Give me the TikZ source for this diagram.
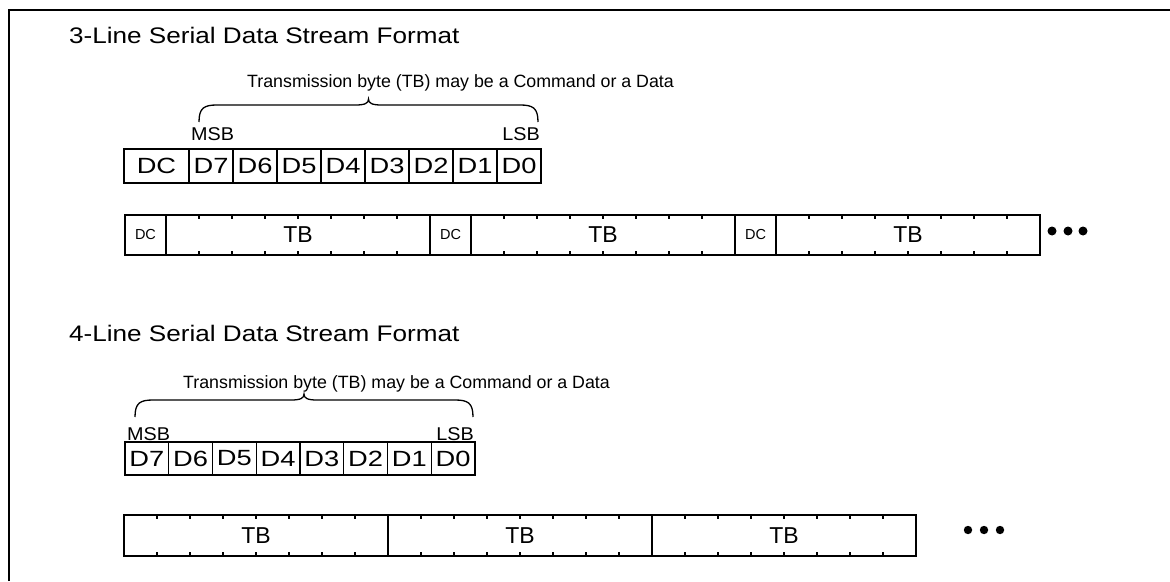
\documentclass[tikz,border=0pt]{standalone}
\usepackage{graphicx}
\usepackage{fontspec}
\setmainfont{Liberation Sans}

\newcommand{\wide}[2][1.24]{\scalebox{#1}[1]{#2}}
\newcommand{\tbrace}[3]{%
  \pgfmathsetmacro\braceM{(#1+#2)/2}
  \draw[line width=1.3pt] (#1,#3) .. controls (#1,{#3-14}) and ({#1+5},{#3-17}) .. ({#1+18},{#3-17})
    -- ({\braceM-13},{#3-17}) .. controls ({\braceM-3},{#3-17}) and (\braceM,{#3-19}) .. (\braceM,{#3-23})
    .. controls (\braceM,{#3-19}) and ({\braceM+3},{#3-17}) .. ({\braceM+13},{#3-17})
    -- ({#2-18},{#3-17}) .. controls ({#2-5},{#3-17}) and (#2,{#3-14}) .. (#2,#3);}

\tikzset{
  cell/.style={draw, line width=1.3pt, inner sep=0pt, minimum height=34pt,
    font=\fontsize{22}{22}\selectfont},
  ttl/.style={anchor=base west, inner sep=0pt, font=\fontsize{22.5}{27}\selectfont},
  note/.style={anchor=base west, inner sep=0pt, font=\fontsize{17.8}{20}\selectfont},
  bit/.style={inner sep=0pt, font=\fontsize{18.5}{20}\selectfont},
  tb/.style={inner sep=0pt, font=\fontsize{23}{23}\selectfont},
  dc/.style={inner sep=0pt, font=\fontsize{14.5}{14}\selectfont},
  rule/.style={line width=1.3pt},
  split/.style={line width=2.6pt},
  more/.style={fill=black, draw=none}
}

\begin{document}
\begin{tikzpicture}[x=1pt, y=-1pt]
  \useasboundingbox (0,0) rectangle (1170,581);
  \draw[line width=2.6pt] (9,581) -- (9,10) -- (1170,10);

  \node[ttl] (t3) at (69,43) {\wide[1.16]{3-Line Serial Data Stream Format}};
  \node[note] (n3) at (247,87) {Transmission byte (TB) may be a Command or a Data};
  \tbrace{199}{538}{122}
  \node[bit, anchor=base west] (m3) at (191,140) {\wide[1.07]{MSB}};
  \node[bit, anchor=base east] (l3) at (540,140) {\wide[1.07]{LSB}};
  \node[cell, minimum width=65pt] (a) at (156.5,166) {\wide{DC}};
  \foreach \i in {0,...,7} {
    \pgfmathtruncatemacro\b{7-\i}
    \node[cell, minimum width=44pt] (a\b) at ({211+44*\i},166) {\wide{D\b}};
  }

  \foreach \s in {125,430,735} {
    \draw[rule] (\s,215) rectangle ({\s+305},255);
    \draw[split] (\s,215) -- (\s,255);
    \draw[rule] ({\s+41},215) -- ({\s+41},255);
    \node[dc] at ({\s+20.5},235) {DC};
    \node[tb] at ({\s+173},235) {TB};
    \foreach \k in {1,...,7}
      \draw[rule] ({\s+41+33*\k},215) -- ++(0,4) ({\s+41+33*\k},255) -- ++(0,-4);
  }
  \foreach \x in {1052,1068,1083}
    \fill[more] (\x,231) circle (4.5);

  \node[ttl] (t4) at (69,341) {\wide[1.16]{4-Line Serial Data Stream Format}};
  \node[note] (n4) at (183,388) {Transmission byte (TB) may be a Command or a Data};
  \tbrace{135}{473}{417}
  \node[bit, anchor=base west] (m4) at (127,440) {\wide[1.07]{MSB}};
  \node[bit, anchor=base east] (l4) at (474,440) {\wide[1.07]{LSB}};
  \foreach \i in {0,...,7} {
    \pgfmathtruncatemacro\b{7-\i}
    \node[cell, minimum width=43.75pt, minimum height=33pt] (b\b) at ({146.9+43.75*\i},458.5) {\wide{D\b}};
  }

  \foreach \s in {124,388,652} {
    \draw[rule] (\s,515) rectangle ({\s+264},556);
    \draw[split] (\s,515) -- (\s,556);
    \node[tb] at ({\s+132},535.5) {TB};
    \foreach \k in {1,...,7}
      \draw[rule] ({\s+33*\k},515) -- ++(0,4) ({\s+33*\k},556) -- ++(0,-4);
  }
  \foreach \x in {968,984,1000}
    \fill[more] (\x,530) circle (4.2);
\end{tikzpicture}
\end{document}
